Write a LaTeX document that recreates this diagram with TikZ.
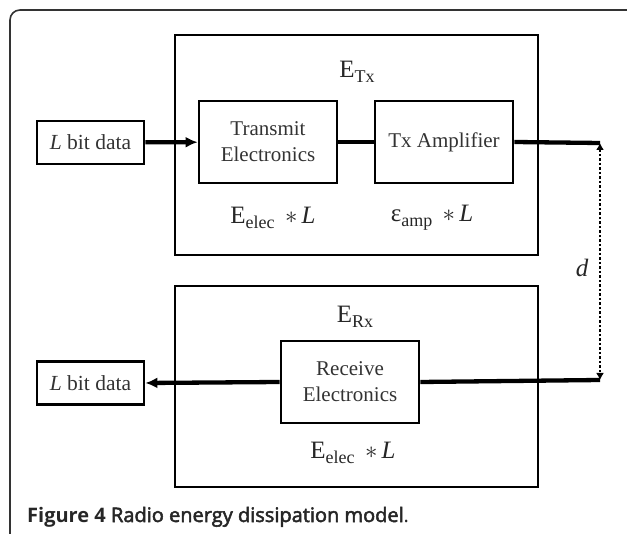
\documentclass[tikz,border=0pt]{standalone}
\usepackage{fontspec}
\setmainfont{Liberation Serif}
\newfontfamily\captionfont{Open Sans}
\newfontfamily\captionsemi[FakeBold=2.5]{Open Sans}
\usetikzlibrary{arrows.meta}
\newcommand{\lowsub}[1]{\raisebox{-0.45ex}{\scalebox{0.72}{#1}}}

\begin{document}
\begin{tikzpicture}[x=1pt,y=-1pt,
  block/.style={draw,line width=2.7pt,inner sep=0pt,minimum width=138pt,minimum height=82pt,align=center,text=black!80,font=\fontsize{21}{26}\selectfont},
  databox/.style={draw,line width=2.7pt,inner sep=0pt,minimum width=107pt,minimum height=43pt,text=black!80,font=\fontsize{21.5}{26}\selectfont},
  stage/.style={draw,line width=2.7pt,inner sep=0pt,minimum width=363pt},
  energy/.style={inner sep=0pt,text=black!85,font=\fontsize{25}{30}\selectfont},
  signal/.style={line width=4.3pt},
  spanline/.style={line width=2.5pt,dash pattern=on 2.5pt off 2pt,{Latex[length=7pt,width=8pt]}-{Latex[length=7pt,width=8pt]}}]

\useasboundingbox (0,0) rectangle (627,534);
\begin{scope}
\clip (0,0) rectangle (627,534);
\draw[line width=1.6pt,black!80,rounded corners=10pt] (10,10) rectangle (660,560);
\end{scope}

\node[stage,minimum height=220pt] (tx) at (356.5,145) {};
\node[stage,minimum height=201pt] (rx) at (356.5,386.5) {};

\node[databox] (txdata) at (90.5,142.5) {\textit{L} bit data};
\node[block] (transmit) at (268,142) {Transmit\\Electronics};
\node[block] (amp) at (444,142) {Tx Amplifier};
\node[energy] (etx) at (357,72) {E\lowsub{Tx}};
\node[energy] (eelec) at (273,218) {E\lowsub{elec}\ \,$*$\,\textit{L}};
\node[energy] (eamp) at (432,218) {ε\lowsub{amp}\ \,$*$\,\textit{L}};
\coordinate (txend) at (600,143);

\node[databox] (rxdata) at (90.5,383) {\textit{L} bit data};
\node[block] (receive) at (350,382) {Receive\\Electronics};
\node[energy] (erx) at (355,317) {E\lowsub{Rx}};
\node[energy] (erxelec) at (353,453) {E\lowsub{elec}\ \,$*$\,\textit{L}};
\coordinate (rxend) at (600,380);

\node[energy,font=\fontsize{25}{30}\selectfont\itshape] (dist) at (582,268) {d};

\draw[signal,-{Latex[length=12pt,width=11pt]}] (txdata) -- (transmit);
\draw[signal] (transmit) -- (amp);
\draw[signal] (amp.east) -- (txend);
\draw[signal] (rxend) -- (receive.east);
\draw[signal,-{Latex[length=12pt,width=11pt]}] (receive.west) -- (rxdata.east);
\draw[spanline] (txend) -- (rxend);

\node[anchor=base west,inner sep=0pt,text=black!85,font=\captionfont\fontsize{20}{23}\selectfont] (caption) at (27,522)
  {\textbf{Figure 4} {\captionsemi Radio energy dissipation model}.};
\end{tikzpicture}
\end{document}
